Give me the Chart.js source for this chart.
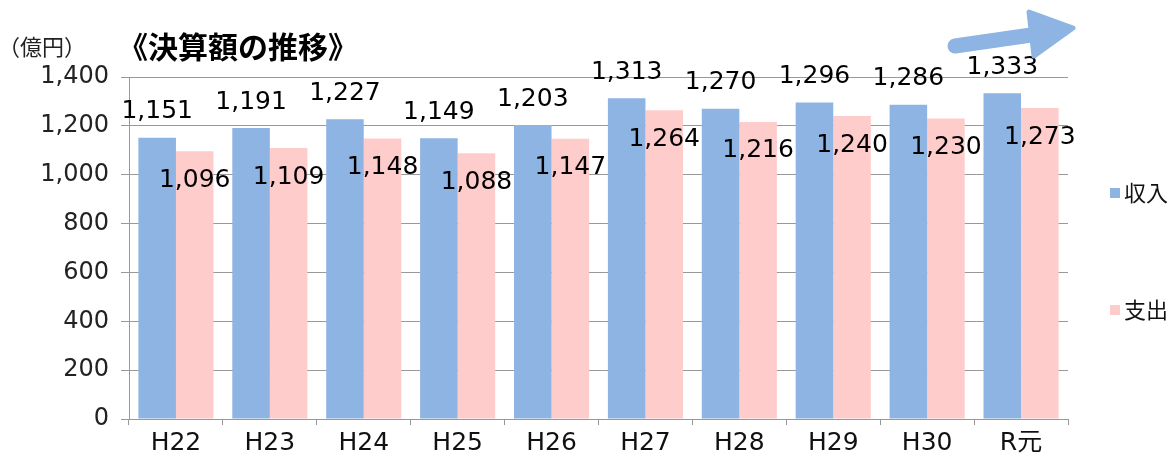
<!DOCTYPE html>
<html><head><meta charset="utf-8">
<script src="https://cdn.jsdelivr.net/npm/chart.js@4"></script>
<style>html,body{margin:0;padding:0;background:#fff;overflow:hidden}#wrap{width:1173px;height:458px;position:relative}</style>
</head><body><div id="wrap"><canvas id="c"></canvas></div>
<script>
const categories = ['H22','H23','H24','H25','H26','H27','H28','H29','H30','R元'];
const revenue = [1151,1191,1227,1149,1203,1313,1270,1296,1286,1333];
const expenditure = [1096,1109,1148,1088,1147,1264,1216,1240,1230,1273];
const yTicks = [0,200,400,600,800,1000,1200,1400];
const seriesNames = ['収入','支出'];
const seriesColors = ['#8EB4E3','#FFCCCC'];
const titleText = '《決算額の推移》';
const unitText = '（億円）';

const NUM_FONT = "'DejaVu Sans', 'Noto Sans CJK JP', sans-serif";
const JP_FONT = "'Noto Sans CJK JP', sans-serif";
const fmt = v => v.toLocaleString('en-US');

const decorPlugin = {
  id: 'decor',
  afterDatasetsDraw(chart) {
    const ctx = chart.ctx;
    ctx.save();
    // data labels
    ctx.textAlign = 'center';
    ctx.textBaseline = 'middle';
    ctx.fillStyle = '#000';
    ctx.font = "25px " + NUM_FONT;
    chart.data.datasets.forEach((ds, di) => {
      const meta = chart.getDatasetMeta(di);
      meta.data.forEach((bar, i) => {
        const y = di === 0 ? bar.y - 26 : bar.y + 29;
        ctx.fillText(fmt(ds.data[i]), bar.x, y);
      });
    });
    // unit + title
    ctx.textAlign = 'left';
    ctx.font = "22px " + JP_FONT;
    ctx.fillStyle = '#222';
    ctx.fillText(unitText, -2, 47);
    ctx.font = "bold 30px " + JP_FONT;
    ctx.fillStyle = '#000';
    ctx.fillText(titleText, 118, 47);
    // legend
    ctx.font = "22px " + JP_FONT;
    const ly = [193, 310];
    chart.data.datasets.forEach((ds, di) => {
      ctx.fillStyle = ds.backgroundColor;
      ctx.fillRect(1110, ly[di] - 5, 10, 10);
      ctx.fillStyle = '#111';
      ctx.fillText(ds.label, 1124, ly[di]);
    });
    // arrow
    ctx.strokeStyle = '#8EB4E3';
    ctx.fillStyle = '#8EB4E3';
    ctx.lineWidth = 15;
    ctx.lineCap = 'round';
    ctx.beginPath();
    ctx.moveTo(955, 46);
    ctx.lineTo(1045, 33);
    ctx.stroke();
    ctx.lineJoin = 'round';
    ctx.lineWidth = 5;
    ctx.beginPath();
    ctx.moveTo(1073, 28);
    ctx.lineTo(1029, 12);
    ctx.lineTo(1034, 56);
    ctx.closePath();
    ctx.fill();
    ctx.stroke();
    ctx.restore();
  }
};

new Chart(document.getElementById('c'), {
  type: 'bar',
  data: {
    labels: categories,
    datasets: [
      { label: seriesNames[0], data: revenue, backgroundColor: seriesColors[0], barPercentage: 1.0, categoryPercentage: 0.8 },
      { label: seriesNames[1], data: expenditure, backgroundColor: seriesColors[1], barPercentage: 1.0, categoryPercentage: 0.8 }
    ]
  },
  options: {
    responsive: true,
    maintainAspectRatio: false,
    animation: false,
    layout: { padding: { top: 77, right: 105, left: 0, bottom: 0 } },
    plugins: { legend: { display: false }, tooltip: { enabled: false }, title: { display: false } },
    scales: {
      x: {
        grid: { drawOnChartArea: false, drawTicks: true, tickLength: 6, color: '#999', offset: true },
        border: { color: '#999', width: 1 },
        ticks: { font: { size: 25, family: NUM_FONT }, color: '#111', padding: 3, maxRotation: 0 },
        afterFit(s) { s.height = 39; }
      },
      y: {
        min: 0, max: 1400,
        afterBuildTicks(s) { s.ticks = yTicks.map(v => ({ value: v })); },
        ticks: { font: { size: 24, family: NUM_FONT }, color: '#222', padding: 12, callback: v => fmt(v) },
        grid: { color: '#999', tickLength: 8 },
        border: { color: '#999', width: 1 },
        afterFit(s) { s.width = 129; }
      }
    }
  },
  plugins: [decorPlugin]
});
</script>
</body></html>
